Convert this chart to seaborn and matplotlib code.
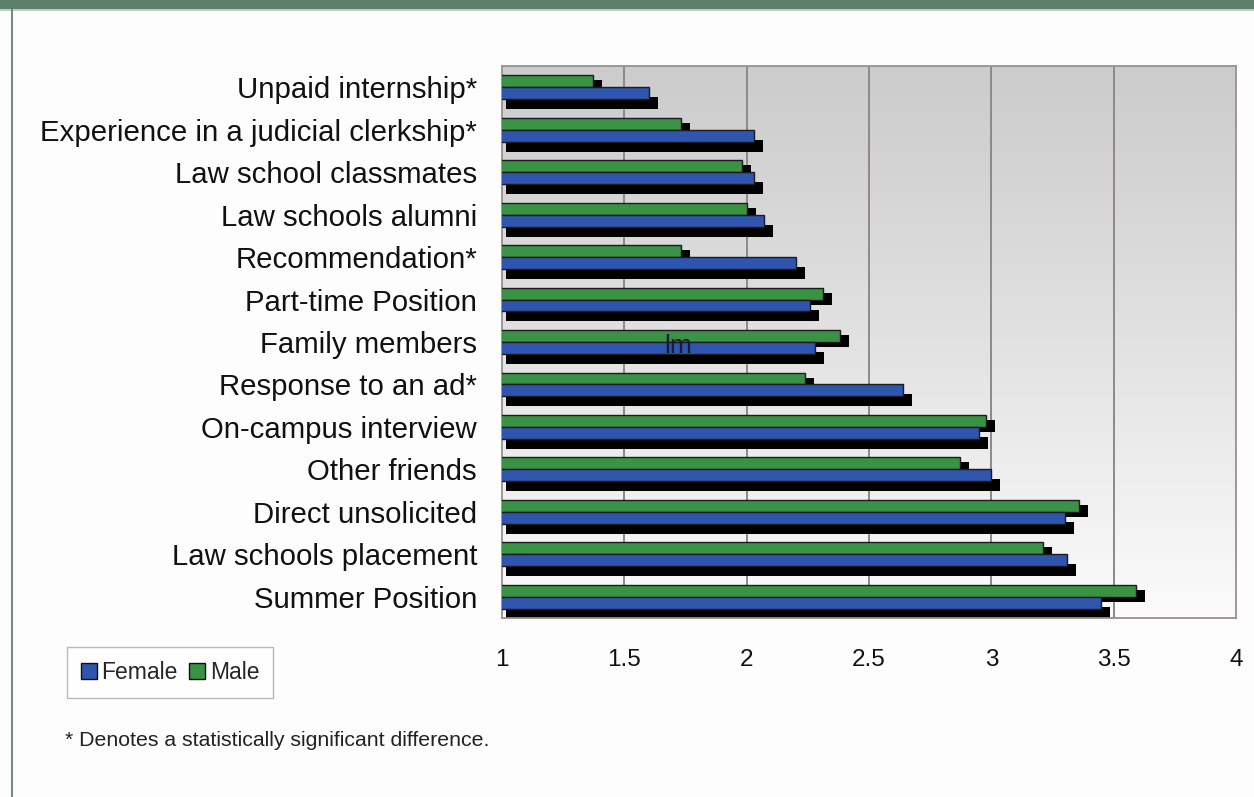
import numpy as np
import pandas as pd
import matplotlib
matplotlib.use("Agg")
import matplotlib.pyplot as plt
import matplotlib.transforms as mtransforms
from matplotlib.patches import Rectangle, Patch
import seaborn as sns

# ---------------- data ----------------
categories = ["Unpaid internship*", "Experience in a judicial clerkship*",
              "Law school classmates", "Law schools alumni", "Recommendation*",
              "Part-time Position", "Family members", "Response to an ad*",
              "On-campus interview", "Other friends", "Direct unsolicited",
              "Law schools placement", "Summer Position"]
female = [1.60, 2.03, 2.03, 2.07, 2.20, 2.26, 2.28, 2.64, 2.95, 3.00, 3.30, 3.31, 3.45]
male = [1.37, 1.73, 1.98, 2.00, 1.73, 2.31, 2.38, 2.24, 2.98, 2.87, 3.36, 3.21, 3.59]
x_ticks = [1, 1.5, 2, 2.5, 3, 3.5, 4]
x_tick_labels = ["1", "1.5", "2", "2.5", "3", "3.5", "4"]
footnote = "* Denotes a statistically significant difference."

BLUE = "#2f55ae"
GREEN = "#3a9245"

df = pd.DataFrame({
    "Item": categories * 2,
    "Score": male + female,
    "Sex": ["Male"] * len(categories) + ["Female"] * len(categories),
})

sns.set_style("white")
plt.rcParams["font.family"] = ["Liberation Sans", "DejaVu Sans"]

W, H, DPI = 1254, 797, 100
fig = plt.figure(figsize=(W / DPI, H / DPI), dpi=DPI)
fig.patch.set_facecolor("#fdfdfd")

ax = fig.add_axes([502 / W, 1 - 618 / H, 734 / W, 552 / H])

# background gradient of plot area
grad = np.linspace(0, 1, 256).reshape(-1, 1)
top_c = np.array([0.80, 0.80, 0.80])
bot_c = np.array([0.985, 0.985, 0.985])
g = grad ** 1.1
img = top_c[None, None, :] * (1 - g[:, :, None]) + bot_c[None, None, :] * g[:, :, None]
ax.imshow(img, extent=[0, 1, 0, 1], transform=ax.transAxes, aspect="auto",
          zorder=0, interpolation="bilinear")

sns.barplot(data=df, y="Item", x="Score", hue="Sex", hue_order=["Male", "Female"],
            palette={"Male": GREEN, "Female": BLUE}, orient="h", width=0.56,
            gap=0, saturation=1, errorbar=None, edgecolor="#1c1c1c",
            linewidth=1.0, legend=False, ax=ax, zorder=3)

ax.set_xlim(1, 4)

# shadows derived from the bar geometry
bars = list(ax.patches)
for p in bars:
    x0, y0 = p.get_x(), p.get_y()
    w, h = p.get_width(), p.get_height()
    if w <= 0:
        continue
    is_green = matplotlib.colors.to_hex(p.get_facecolor()) == GREEN.lower()
    dy = 5 if is_green else 10
    for dx in (4, 9):
        tr = ax.transData + mtransforms.ScaledTranslation(dx / DPI, -dy / DPI,
                                                          fig.dpi_scale_trans)
        r = Rectangle((1, y0), x0 + w - 1, h, facecolor="black",
                      edgecolor="none", transform=tr, zorder=2, clip_on=True)
        ax.add_patch(r)

# grid lines
for xv in x_ticks[1:-1]:
    ax.axvline(xv, color="#8e8888", lw=1.4, zorder=1)

ax.set_xticks(x_ticks)
ax.set_xticklabels(x_tick_labels, fontsize=17.5)
ax.tick_params(axis="x", direction="out", length=5, width=1, color="#8e8888",
               pad=17, labelcolor="#111111")
ax.set_yticks(range(len(categories)))
ax.set_yticklabels(categories, fontsize=21.2, color="#111111")
ax.tick_params(axis="y", which="major", length=0, pad=18)
ax.set_yticks(np.arange(len(categories) - 1) + 0.5, minor=True)
ax.tick_params(axis="y", which="minor", length=5, width=1, color="#8e8888",
               direction="out")
ax.set_xlabel("")
ax.set_ylabel("")
for s in ax.spines.values():
    s.set_visible(True)
    s.set_color("#979191")
    s.set_linewidth(1.3)

# legend
handles = [Patch(facecolor=BLUE, edgecolor="#111111", label="Female"),
           Patch(facecolor=GREEN, edgecolor="#111111", label="Male")]
leg = fig.legend(handles=handles, loc="upper left",
                 bbox_to_anchor=(67 / W, 1 - 647 / H), ncol=2, fontsize=16.5,
                 frameon=True, fancybox=False, handlelength=0.7,
                 handleheight=0.7, handletextpad=0.2, columnspacing=0.5,
                 borderpad=0.6, borderaxespad=0)
leg.get_frame().set_edgecolor("#a8a8a8")
leg.get_frame().set_linewidth(1.0)

fig.text(65 / W, 1 - 740 / H, footnote, fontsize=15.3, va="center", ha="left",
         color="#222222")

# stray text present in the reference
fig.text(678 / W, 1 - 346 / H, "lm", fontsize=19, va="center", ha="center",
         color="#1a1a30")

# page decoration: top band and left frame line
fig.patches.append(Rectangle((0, 1 - 9 / H), 1, 9 / H, transform=fig.transFigure,
                             facecolor="#5e7f69", edgecolor="none", zorder=0))
fig.patches.append(Rectangle((0, 1 - 11 / H), 1, 2 / H, transform=fig.transFigure,
                             facecolor="#bcd0c3", edgecolor="none", zorder=0))
fig.patches.append(Rectangle((11 / W, 0), 1.5 / W, 1 - 9 / H,
                             transform=fig.transFigure, facecolor="#6f8c7b",
                             edgecolor="none", zorder=0))

fig.savefig("out.png", dpi=DPI, facecolor=fig.get_facecolor())
